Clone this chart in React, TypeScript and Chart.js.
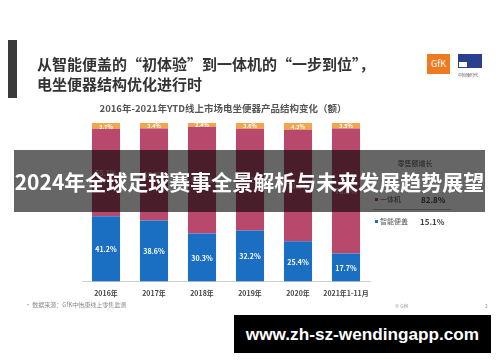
import React, { useEffect, useRef } from "react";
import { Chart, registerables } from "chart.js";

Chart.register(...registerables);

const categories = ["2016年", "2017年", "2018年", "2019年", "2020年", "2021年1-11月"];
const smartCover = [41.2, 38.6, 30.3, 32.2, 25.4, 17.7];
const allInOne = [55.1, 58.0, 67.3, 64.2, 70.3, 78.8];
const others = [3.7, 3.4, 2.4, 3.6, 4.3, 3.5];
const growthLabels = ["一体机", "智能便盖"];
const growthValues = ["82.8%", "15.1%"];

const FONT = "'Noto Sans CJK SC', 'Noto Sans', sans-serif";
const BLUE = "#1b6fc2";
const PINK = "#b8496c";
const ORANGE = "#f0a64c";

const labelPlugin = {
  id: "segLabels",
  afterDatasetsDraw(chart: any) {
    const ctx = chart.ctx;
    ctx.save();
    ctx.textAlign = "center";
    ctx.textBaseline = "middle";
    chart.data.datasets.forEach((ds: any, di: number) => {
      const meta = chart.getDatasetMeta(di);
      meta.data.forEach((bar: any, i: number) => {
        const v = ds.data[i];
        const y = (bar.y + bar.base) / 2;
        if (di === 2) {
          ctx.font = `bold 5.5px ${FONT}`;
          ctx.fillStyle = "rgba(255,255,255,0.95)";
        } else if (di === 1) {
          ctx.font = `bold 7px ${FONT}`;
          ctx.fillStyle = "rgba(255,255,255,0.6)";
        } else {
          ctx.font = `bold 7px ${FONT}`;
          ctx.fillStyle = "#ffffff";
        }
        ctx.fillText(v.toFixed(1) + "%", bar.x, y + 0.5);
      });
    });
    ctx.restore();
  },
};

function T(props: { x: number; y: number; size: number; children: any; color?: string; bold?: boolean; center?: boolean }) {
  const { x, y, size, children, color, bold, center } = props;
  return (
    <div
      style={{
        position: "absolute",
        left: x,
        top: y - size / 2,
        fontSize: size,
        lineHeight: `${size}px`,
        color: color || "#444",
        fontWeight: bold ? 700 : 400,
        whiteSpace: "nowrap",
        fontFamily: FONT,
        transform: center ? "translateX(-50%)" : undefined,
      }}
    >
      {children}
    </div>
  );
}

export default function App() {
  const ref = useRef<HTMLCanvasElement>(null);
  useEffect(() => {
    const chart = new Chart(ref.current as HTMLCanvasElement, {
      type: "bar",
      data: {
        labels: categories,
        datasets: [
          { label: "智能便盖", data: smartCover, backgroundColor: BLUE, borderWidth: 0 },
          { label: "一体机", data: allInOne, backgroundColor: PINK, borderWidth: 0 },
          { label: "其他", data: others, backgroundColor: ORANGE, borderWidth: 0 },
        ],
      },
      options: {
        animation: false,
        responsive: false,
        maintainAspectRatio: false,
        layout: { padding: { left: 82, right: 130, top: 123, bottom: 56 } },
        datasets: { bar: { barPercentage: 0.9, categoryPercentage: 0.65 } } as any,
        plugins: { legend: { display: false }, tooltip: { enabled: false }, title: { display: false } },
        scales: {
          x: {
            stacked: true,
            grid: { display: false, drawTicks: false },
            border: { display: true, color: "#d0d0d0", width: 1 },
            ticks: {
              padding: 8,
              maxRotation: 0,
              minRotation: 0,
              autoSkip: false,
              color: "#444",
              font: { family: FONT, size: 7, weight: "bold" },
            },
          },
          y: { stacked: true, display: false, min: 0, max: 100 },
        },
      },
      plugins: [labelPlugin],
    });
    return () => chart.destroy();
  }, []);

  return (
    <div style={{ position: "absolute", left: 0, top: 0, width: 500, height: 362, background: "#fff", overflow: "hidden" }}>
      <canvas ref={ref} width={500} height={362} style={{ position: "absolute", left: 0, top: 0, width: 500, height: 362 }} />
      {/* left accent bar */}
      <div style={{ position: "absolute", left: 8, top: 40, width: 9, height: 58, background: "#3a3a3a" }} />
      <T x={37} y={63} size={15} bold color="#333">从智能便盖的“初体验”到一体机的“一步到位”，</T>
      <T x={37} y={83} size={15} bold color="#333">电坐便器结构优化进行时</T>
      {/* logos */}
      <div style={{ position: "absolute", left: 427, top: 54, width: 23, height: 20, background: "#ee7a22", color: "#fff", fontFamily: FONT, fontSize: 9, lineHeight: "20px", textAlign: "center" }}>GfK</div>
      <div style={{ position: "absolute", left: 458, top: 54, width: 24, height: 14, background: "#2b3f8f" }} />
      <div style={{ position: "absolute", left: 459, top: 62, width: 8, height: 5, background: "#fff" }} />
      <T x={458} y={75} size={4} color="#555">中怡康时代</T>
      <T x={223} y={109} size={9.5} bold color="#555" center>2016年-2021年YTD线上市场电坐便器产品结构变化（额）</T>
      {/* growth table */}
      <T x={415} y={163} size={7} color="#555" center>零售额增长</T>
      <div style={{ position: "absolute", left: 375, top: 198, width: 3, height: 3, background: PINK }} />
      <T x={380} y={199.5} size={7} color="#555">{growthLabels[0]}</T>
      <T x={421} y={199.5} size={8} bold color="#444">{growthValues[0]}</T>
      <div style={{ position: "absolute", left: 373, top: 209, width: 78, height: 1, background: "#bbb" }} />
      <div style={{ position: "absolute", left: 375, top: 220, width: 3, height: 3, background: BLUE }} />
      <T x={380} y={221.5} size={7} color="#555">{growthLabels[1]}</T>
      <T x={420} y={221.5} size={8} bold color="#444">{growthValues[1]}</T>
      {/* footer */}
      <T x={25} y={305} size={6} color="#888">•  数据来源：GfK中怡康线上零售监测</T>
      <T x={395} y={305} size={5} color="#999">© GfK</T>
      <T x={485} y={305} size={5} color="#999">2</T>
      {/* banner overlay */}
      <div style={{ position: "absolute", left: 14, top: 150, width: 471, height: 62, background: "rgba(0,0,0,0.6)" }} />
      <div
        style={{
          position: "absolute",
          left: 14,
          top: 150,
          width: 471,
          height: 62,
          lineHeight: "62px",
          textAlign: "center",
          color: "#fff",
          fontWeight: 700,
          fontSize: 21,
          fontFamily: FONT,
          whiteSpace: "nowrap",
        }}
      >
        2024年全球足球赛事全景解析与未来发展趋势展望
      </div>
      <div
        style={{
          position: "absolute",
          left: 234,
          top: 315,
          width: 257,
          height: 38,
          background: "#000",
          color: "#fff",
          fontWeight: 700,
          fontSize: 17.2,
          lineHeight: "38px",
          textAlign: "center",
          fontFamily: "'Liberation Sans', Arial, sans-serif",
          whiteSpace: "nowrap",
        }}
      >
        www.zh-sz-wendingapp.com
      </div>
    </div>
  );
}
